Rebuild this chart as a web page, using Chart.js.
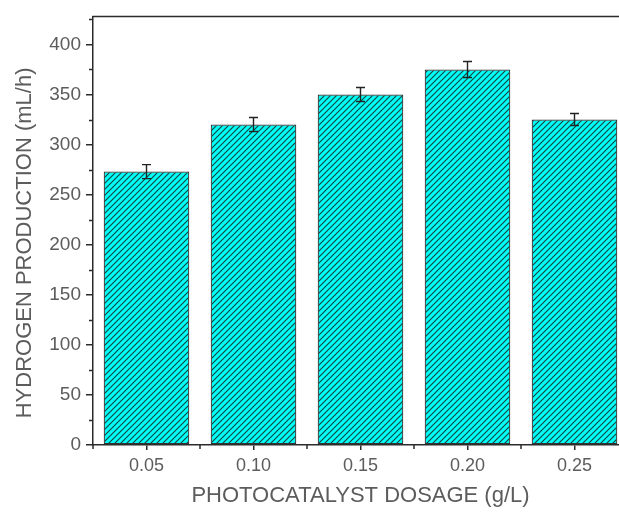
<!DOCTYPE html>
<html>
<head>
<meta charset="utf-8">
<script src="https://cdn.jsdelivr.net/npm/chart.js@4.4.1/dist/chart.umd.min.js"></script>
<style>
  html, body { margin: 0; padding: 0; background: #fff; overflow: hidden; }
  #wrap { width: 619px; height: 515px; overflow: hidden; position: relative; }
  canvas { position: absolute; left: 0; top: 0; }
</style>
</head>
<body>
<div id="wrap"><canvas id="c" width="640" height="515"></canvas></div>
<script>
// Hydrogen production rate for each photocatalyst dosage
const dosages = ['0.05', '0.10', '0.15', '0.20', '0.25'];
const production = [273, 320, 350, 375, 325];
const productionErr = [7, 7, 7, 8, 6];
const yMajorTicks = [0, 50, 100, 150, 200, 250, 300, 350, 400];
const yMinorTicks = [25, 75, 125, 175, 225, 275, 325, 375, 425];

const AXIS = '#2b2b2b';
const TEXT = '#5c5c5c';
const FONT = "'Liberation Sans', Arial, sans-serif";

// diagonal hatch on cyan
function hatchPattern() {
  const s = 6;
  const t = document.createElement('canvas');
  t.width = s; t.height = s;
  const g = t.getContext('2d');
  g.fillStyle = '#00fff6';
  g.fillRect(0, 0, s, s);
  g.strokeStyle = '#163f41';
  g.lineWidth = 1.1;
  g.beginPath();
  g.moveTo(-1, s + 1); g.lineTo(s + 1, -1);
  g.moveTo(-1, 1); g.lineTo(1, -1);
  g.moveTo(s - 1, s + 1); g.lineTo(s + 1, s - 1);
  g.stroke();
  return g.createPattern(t, 'repeat');
}

const ctx = document.getElementById('c').getContext('2d');

// error bars, minor ticks and the top frame line
const extras = {
  id: 'extras',
  afterDatasetsDraw(chart) {
    const { ctx, scales } = chart;
    const y = scales.y;
    ctx.save();
    ctx.strokeStyle = '#222';
    ctx.lineWidth = 1.4;
    const meta = chart.getDatasetMeta(0);
    meta.data.forEach((bar, i) => {
      const cx = bar.x;
      const hi = y.getPixelForValue(production[i] + productionErr[i]);
      const lo = y.getPixelForValue(production[i] - productionErr[i]);
      ctx.beginPath();
      ctx.moveTo(cx, hi); ctx.lineTo(cx, lo);
      ctx.moveTo(cx - 4.5, hi); ctx.lineTo(cx + 4.5, hi);
      ctx.moveTo(cx - 4.5, lo); ctx.lineTo(cx + 4.5, lo);
      ctx.stroke();
    });
    ctx.restore();
  },
  afterDraw(chart) {
    const { ctx, chartArea, scales } = chart;
    const x = scales.x, y = scales.y;
    ctx.save();
    ctx.strokeStyle = AXIS;
    ctx.lineWidth = 1.5;
    ctx.beginPath();
    // top frame
    ctx.moveTo(chartArea.left - 0.75, chartArea.top);
    ctx.lineTo(chartArea.right, chartArea.top);
    // minor y ticks
    yMinorTicks.forEach(v => {
      const py = Math.round(y.getPixelForValue(v)) + 0.5;
      ctx.moveTo(chartArea.left, py); ctx.lineTo(chartArea.left - 4, py);
    });
    // category boundary ticks on x
    const step = x.getPixelForValue(1) - x.getPixelForValue(0);
    for (let i = 0; i <= dosages.length; i++) {
      const px = x.getPixelForValue(i) - step / 2;
      ctx.moveTo(px, chartArea.bottom); ctx.lineTo(px, chartArea.bottom + 4);
    }
    ctx.stroke();
    ctx.restore();
  }
};

new Chart(ctx, {
  type: 'bar',
  data: {
    labels: dosages,
    datasets: [{
      data: production,
      backgroundColor: hatchPattern(),
      borderColor: '#333',
      borderWidth: 1.2,
      borderSkipped: false,
      barPercentage: 0.8,
      categoryPercentage: 1.0
    }]
  },
  options: {
    responsive: false,
    animation: false,
    layout: { padding: { top: 15, right: 12, left: 0, bottom: 0 } },
    plugins: { legend: { display: false }, tooltip: { enabled: false } },
    scales: {
      x: {
        offset: true,
        afterFit(s) { s.height = 70; },
        grid: { display: true, drawOnChartArea: false, offset: false, tickLength: 5, color: AXIS, lineWidth: 1.5 },
        border: { display: true, color: AXIS, width: 1.5 },
        ticks: { color: TEXT, font: { family: FONT, size: 18 }, padding: 5 },
        title: { display: true, text: 'PHOTOCATALYST DOSAGE (g/L)', color: TEXT, font: { family: FONT, size: 22 }, padding: { top: 0, bottom: 6 } }
      },
      y: {
        min: 0, max: 428,
        afterFit(s) { s.width = 93; },
        afterBuildTicks(s) { s.ticks = yMajorTicks.map(v => ({ value: v })); },
        grid: { display: true, drawOnChartArea: false, tickLength: 7, color: AXIS, lineWidth: 1.5 },
        border: { display: true, color: AXIS, width: 1.5 },
        ticks: { color: TEXT, font: { family: FONT, size: 19 }, padding: 5 },
        title: { display: true, text: 'HYDROGEN PRODUCTION (mL/h)    ', color: TEXT, font: { family: FONT, size: 22 }, padding: { top: 12, bottom: 0 } }
      }
    }
  },
  plugins: [extras]
});
</script>
</body>
</html>
